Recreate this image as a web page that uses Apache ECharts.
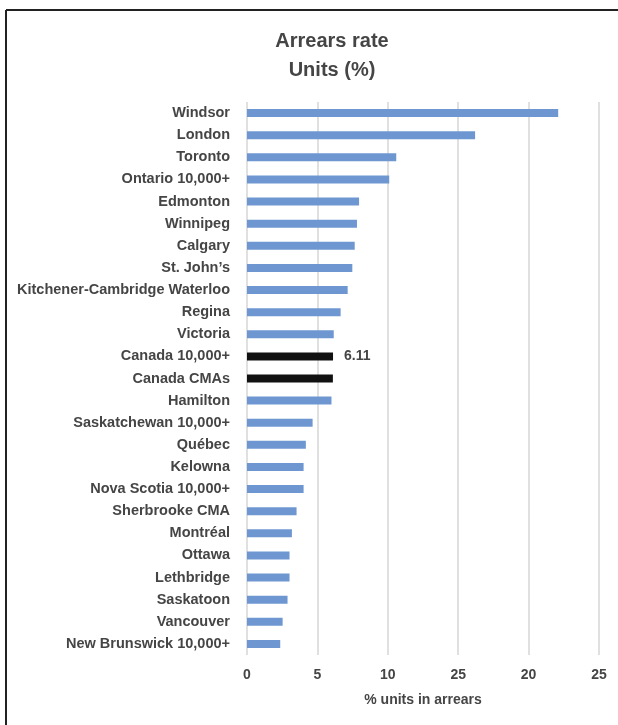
<!DOCTYPE html>
<html>
<head>
<meta charset="utf-8">
<script src="https://cdn.jsdelivr.net/npm/echarts@6/dist/echarts.min.js"></script>
<style>
html,body{margin:0;padding:0;background:#fff;}
#chart{width:618px;height:725px;}
</style>
</head>
<body>
<div id="chart"></div>
<script>
const categories = ["Windsor","London","Toronto","Ontario 10,000+","Edmonton","Winnipeg","Calgary","St. John\u2019s","Kitchener-Cambridge Waterloo","Regina","Victoria","Canada 10,000+","Canada CMAs","Hamilton","Saskatchewan 10,000+","Québec","Kelowna","Nova Scotia 10,000+","Sherbrooke CMA","Montréal","Ottawa","Lethbridge","Saskatoon","Vancouver","New Brunswick 10,000+"];
const values = [22.1, 16.2, 10.6, 10.1, 7.96, 7.81, 7.65, 7.48, 7.15, 6.65, 6.16, 6.11, 6.1, 6.0, 4.66, 4.18, 4.02, 4.02, 3.52, 3.19, 3.02, 3.02, 2.88, 2.53, 2.36];
const highlighted = ["Canada 10,000+", "Canada CMAs"];
const labelledCategory = "Canada 10,000+";
const xTickLabels = ["0","5","10","25","20","25"];
const titleLines = ["Arrears rate", "Units (%)"];
const xAxisName = "% units in arrears";

const FONT = '"Liberation Sans", Arial, sans-serif';
const TEXT = '#454545';
const BLUE = '#6e97d2';
const BLACK = '#111111';

const chart = echarts.init(document.getElementById('chart'), null, {renderer: 'canvas'});

const data = categories.map((c, i) => ({
  value: values[i],
  itemStyle: { color: highlighted.includes(c) ? BLACK : BLUE },
  label: c === labelledCategory ? {
    show: true, position: 'right', distance: 11,
    formatter: () => values[i].toFixed(2),
    color: TEXT, fontWeight: 'bold', fontSize: 14, fontFamily: FONT
  } : { show: false }
}));

chart.setOption({
  animation: false,
  backgroundColor: '#ffffff',
  title: {
    text: titleLines.join('\n'),
    left: 327,
    textAlign: 'center',
    top: 22,
    textStyle: { color: TEXT, fontWeight: 'bold', fontSize: 20, fontFamily: FONT, lineHeight: 29 }
  },
  grid: { left: 247, right: 19, top: 102, bottom: 70, containLabel: false },
  xAxis: {
    type: 'value',
    min: 0, max: 25, interval: 5,
    axisLine: { show: false },
    axisTick: { show: false },
    splitLine: { show: true, lineStyle: { color: '#d6d6d6', width: 1.5 } },
    axisLabel: {
      color: TEXT, fontWeight: 'bold', fontSize: 14, fontFamily: FONT, margin: 13,
      formatter: v => xTickLabels[Math.round(v / 5)]
    },
    name: xAxisName,
    nameLocation: 'middle',
    nameGap: 38,
    nameTextStyle: { color: TEXT, fontWeight: 'bold', fontSize: 14, fontFamily: FONT }
  },
  yAxis: {
    type: 'category',
    data: categories,
    inverse: true,
    axisLine: { show: false },
    axisTick: { show: false },
    splitLine: { show: false },
    axisLabel: { color: TEXT, fontWeight: 'bold', fontSize: 14.5, fontFamily: FONT, margin: 17, interval: 0 }
  },
  series: [{
    type: 'bar',
    data: data,
    barWidth: 8
  }],
  graphic: [
    { type: 'line', shape: { x1: 6, y1: 10, x2: 618, y2: 10 }, style: { stroke: '#222', lineWidth: 2 } },
    { type: 'line', shape: { x1: 6, y1: 10, x2: 6, y2: 725 }, style: { stroke: '#222', lineWidth: 2 } }
  ]
});
</script>
</body>
</html>
